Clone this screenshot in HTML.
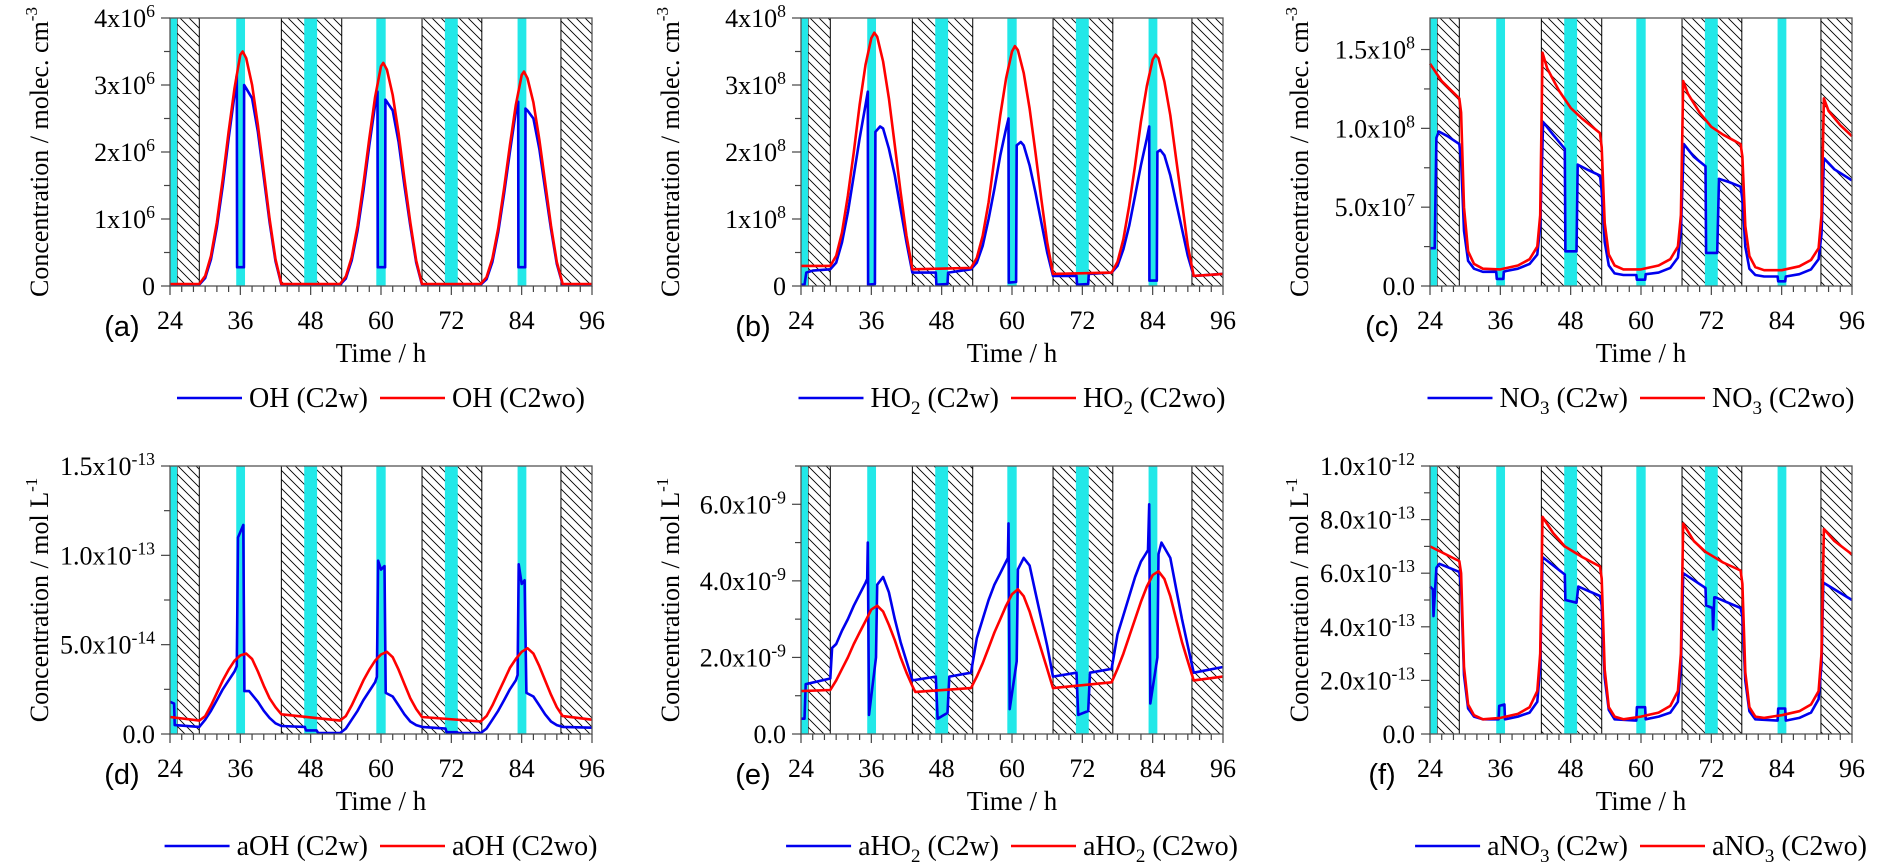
<!DOCTYPE html>
<html><head><meta charset="utf-8"><style>
html,body{margin:0;padding:0;background:#fff;}
svg{display:block;}
</style></head><body>
<svg id="fig" width="1882" height="866" viewBox="0 0 1882 866" xmlns="http://www.w3.org/2000/svg">
<defs>
<pattern id="hatch" patternUnits="userSpaceOnUse" width="9" height="9">
<path d="M-1,-1 L10,10 M-10,-1 L1,10 M8,-1 L19,10" stroke="#000" stroke-width="0.9"/>
</pattern>
</defs>
</svg>
<script>
// shared shading periods (hours)
const hatchStart=[25.2,43,67,90.7];
const hatchEnd=[29,53.3,77.2,96];
const cyanStart=[24,35.3,46.9,59.2,70.9,83.3];
const cyanEnd=[25.2,36.8,49.1,60.8,73.1,84.8];
const xTicks=[24,36,48,60,72,84,96];

// (a) OH, units 1e6
const aRedT=[24,29,30,31,32,33,34,35,36,36.4,37,38,39,40,41,42,43,53,54,55,56,57,58,59,60,60.4,61,62,63,64,65,66,67,77,78,79,80,81,82,83,84,84.4,85,86,87,88,89,90,91,96];
const aRedV=[0.03,0.03,0.15,0.45,0.95,1.6,2.3,2.95,3.45,3.5,3.4,3.0,2.4,1.7,1.0,0.4,0.03,0.03,0.14,0.43,0.9,1.52,2.2,2.82,3.28,3.33,3.23,2.85,2.28,1.6,0.95,0.38,0.03,0.03,0.13,0.41,0.86,1.46,2.1,2.7,3.15,3.2,3.1,2.74,2.19,1.55,0.9,0.36,0.03,0.03];
const aBlueT=[24,29,30,31,32,33,34,35,35.4,35.45,36.6,36.65,37,38,39,40,41,42,43,53,54,55,56,57,58,59,59.4,59.45,60.7,60.75,61,62,63,64,65,66,67,77,78,79,80,81,82,83,83.4,83.45,84.6,84.65,85,86,87,88,89,90,91,96];
const aBlueV=[0.02,0.02,0.12,0.4,0.88,1.5,2.2,2.85,3.15,0.28,0.28,3.0,2.95,2.8,2.3,1.62,0.95,0.37,0.02,0.02,0.11,0.38,0.83,1.42,2.1,2.7,2.9,0.28,0.28,2.78,2.75,2.62,2.15,1.5,0.9,0.35,0.02,0.02,0.1,0.36,0.8,1.38,2.0,2.6,2.75,0.28,0.28,2.65,2.62,2.5,2.05,1.45,0.85,0.33,0.02,0.02];
const aTicks=[0,1,2,3,4];
const aTickLabels=['0','1x10^6','2x10^6','3x10^6','4x10^6'];

// (b) HO2, units 1e8
const bRedT=[24,29,30,31,32,33,34,35,36,36.5,37,38,39,40,41,42,43,53,54,55,56,57,58,59,60,60.5,61,62,63,64,65,66,67,77,78,79,80,81,82,83,84,84.5,85,86,87,88,89,90,91,96];
const bRedV=[0.3,0.3,0.45,0.8,1.35,2.0,2.7,3.3,3.7,3.78,3.72,3.35,2.8,2.1,1.4,0.75,0.25,0.27,0.42,0.75,1.25,1.9,2.55,3.1,3.5,3.58,3.52,3.18,2.65,2.0,1.3,0.65,0.18,0.2,0.36,0.7,1.2,1.8,2.45,2.98,3.38,3.45,3.4,3.05,2.55,1.9,1.25,0.6,0.15,0.18];
const bBlueT=[24,24.6,24.9,26,29,30,31,32,33,34,35,35.4,35.45,36.6,36.7,37.5,38,39,40,41,42,43,47,47.1,49,49.1,53,54,55,56,57,58,59,59.4,59.45,60.7,60.8,61.5,62,63,64,65,66,67,71,71.1,73,73.1,77,78,79,80,81,82,83,83.4,83.45,84.7,84.8,85.3,86,87,88,89,90,91,96];
const bBlueV=[0.02,0.02,0.2,0.23,0.25,0.35,0.65,1.1,1.65,2.2,2.7,2.9,0.02,0.03,2.3,2.38,2.35,2.05,1.65,1.15,0.65,0.2,0.2,0.02,0.03,0.2,0.25,0.35,0.6,1.0,1.45,1.95,2.35,2.5,0.05,0.06,2.1,2.15,2.1,1.8,1.4,0.95,0.5,0.15,0.15,0.02,0.03,0.18,0.2,0.3,0.55,0.9,1.35,1.8,2.2,2.38,0.08,0.08,2.0,2.03,1.95,1.65,1.25,0.85,0.45,0.15,0.18];
const bTicks=[0,1,2,3,4];
const bTickLabels=['0','1x10^8','2x10^8','3x10^8','4x10^8'];

// (c) NO3, units 1e7
const cRedT=[24,26,29,29.3,29.8,30.5,31.5,33,36,39,41,42.3,42.8,43.2,44,46,48,50,53,53.3,53.8,54.5,55.5,57,60,63,65,66.3,66.8,67.2,68,70,72,74,77,77.3,77.8,78.5,79.5,81,84,87,89,90.3,90.8,91.2,92,94,96];
const cRedV=[14.1,13.0,11.9,11.0,5,2.2,1.4,1.1,1.05,1.3,1.7,2.5,4.5,14.8,13.8,12.4,11.3,10.6,9.7,8.8,4,2,1.3,1.05,1.05,1.3,1.7,2.5,4.5,13.0,12.2,11.0,10.1,9.6,9.0,8.2,3.8,1.9,1.2,1.0,1.0,1.25,1.65,2.4,4.5,11.9,11.1,10.2,9.5];
const cBlueT=[24,24.8,25.1,25.5,27,29,29.3,29.8,30.5,31.5,33,35.3,35.4,36.5,36.6,37,39,41,42.3,42.8,43.3,45,47,47.1,49,49.2,51,53,53.3,53.8,54.5,55.5,57,59.2,59.3,60.7,60.8,63,65,66.3,66.8,67.3,69,71,71.1,73,73.3,75,77,77.3,77.8,78.5,79.5,81,83.3,83.4,84.6,84.7,87,89,90.3,90.8,91.2,93,96];
const cBlueV=[2.4,2.4,9.4,9.8,9.5,9.0,8.0,3.5,1.6,1.1,0.9,0.9,0.45,0.45,0.9,0.95,1.1,1.4,2.0,3.8,10.4,9.6,8.7,2.2,2.2,7.7,7.35,7.0,6.0,2.8,1.3,0.8,0.7,0.7,0.4,0.4,0.75,0.85,1.15,1.8,3.5,9.0,8.2,7.6,2.1,2.1,6.8,6.6,6.3,5.5,2.5,1.1,0.7,0.6,0.6,0.3,0.3,0.6,0.75,1.05,1.7,3.3,8.1,7.4,6.7];
const cTicks=[0,5,10,15];
const cTickLabels=['0.0','5.0x10^7','1.0x10^8','1.5x10^8'];

// (d) aOH, units 1e-14
const dRedT=[24,29,30,31,32,33,34,35,36,37,38,39,40,41,42,43,53,54,55,56,57,58,59,60,61,62,63,64,65,66,67,77,78,79,80,81,82,83,84,85,86,87,88,89,90,91,96];
const dRedV=[0.95,0.75,1.0,1.6,2.3,3.0,3.6,4.1,4.4,4.5,4.2,3.5,2.7,2.0,1.5,1.1,0.75,1.0,1.6,2.3,3.0,3.6,4.1,4.45,4.6,4.3,3.6,2.8,2.0,1.4,0.95,0.7,1.0,1.6,2.3,3.0,3.7,4.2,4.6,4.8,4.5,3.8,3.0,2.2,1.5,1.0,0.8];
const dBlueT=[24,24.7,24.8,29,30,31,32,33,34,35,35.4,35.6,36.5,36.7,37.5,38,39,40,41,42,43,47,47.2,49,49.3,53,54,55,56,57,58,59,59.3,59.5,60,60.6,60.8,62,63,64,65,66,67,71,71.2,73,73.2,77,78,79,80,81,82,83,83.3,83.5,84,84.5,84.8,86,87,88,89,90,91,96];
const dBlueV=[1.8,1.7,0.5,0.4,0.8,1.3,1.9,2.5,3.0,3.5,3.8,11.0,11.7,2.4,2.4,2.2,1.8,1.3,0.9,0.6,0.45,0.4,0.2,0.2,0.05,0.05,0.3,0.8,1.3,1.9,2.4,2.9,3.2,9.7,9.2,9.4,2.3,2.1,1.6,1.1,0.7,0.5,0.4,0.3,0.1,0.1,0.05,0.05,0.3,0.8,1.3,1.9,2.5,3.0,3.3,9.5,8.4,8.6,2.3,2.1,1.6,1.1,0.7,0.5,0.4,0.35];
const dTicks=[0,5,10,15];
const dTickLabels=['0.0','5.0x10^-14','1.0x10^-13','1.5x10^-13'];

// (e) aHO2, units 1e-9
const eRedT=[24,29,30,31,32,33,34,35,36,37,38,39,40,41,42,43,43.5,53,54,55,56,57,58,59,60,61,62,63,64,65,66,67,77,78,79,80,81,82,83,84,85,86,87,88,89,90,91,96];
const eRedV=[1.12,1.15,1.4,1.7,2.0,2.35,2.65,2.95,3.25,3.35,3.2,2.85,2.45,2.0,1.6,1.25,1.1,1.2,1.5,1.85,2.25,2.65,3.0,3.35,3.65,3.78,3.6,3.2,2.7,2.2,1.7,1.2,1.35,1.7,2.1,2.55,3.0,3.45,3.85,4.15,4.25,4.05,3.6,3.0,2.4,1.9,1.4,1.5];
const eBlueT=[24,24.6,24.8,29,29.3,30,31,32,33,34,35,35.3,35.4,35.6,36.8,37,38,39,40,41,42,43,47,47.3,49,49.3,53,54,55,56,57,58,59.3,59.4,59.6,60.8,61,62,63,64,65,66,67,71,71.3,73,73.3,77,78,79,80,81,82,83.2,83.4,83.6,84.8,85,85.5,87,88,89,90,91,96];
const eBlueV=[0.4,0.4,1.3,1.45,2.25,2.35,2.7,3.0,3.35,3.65,3.95,4.05,5.0,0.5,2.0,3.9,4.1,3.7,3.0,2.4,1.9,1.4,1.5,0.4,0.55,1.5,1.6,2.5,3.0,3.5,3.9,4.2,4.6,5.5,0.65,1.9,4.3,4.6,4.4,3.7,3.0,2.3,1.5,1.6,0.5,0.6,1.6,1.7,2.6,3.1,3.6,4.1,4.5,4.8,6.0,0.8,2.0,4.7,5.0,4.6,3.8,3.0,2.3,1.6,1.75];
const eTicks=[0,2,4,6];
const eTickLabels=['0.0','2.0x10^-9','4.0x10^-9','6.0x10^-9'];

// (f) aNO3, units 1e-13
const fRedT=[24,29,29.3,29.8,30.5,31.5,33,36,39,41,42.3,42.8,43.2,45,47,50,53,53.3,53.8,54.5,55.5,57,60,63,65,66.3,66.8,67.2,69,71,74,77,77.3,77.8,78.5,79.5,81,84,87,89,90.3,90.8,91.2,93,96];
const fRedV=[7.0,6.45,6.0,2.5,1.1,0.7,0.55,0.6,0.75,1.0,1.6,3.0,8.1,7.5,7.0,6.6,6.25,5.8,2.4,1.0,0.65,0.55,0.65,0.8,1.05,1.6,3.0,7.85,7.2,6.8,6.4,6.1,5.6,2.3,1.0,0.65,0.6,0.7,0.85,1.1,1.6,3.0,7.65,7.2,6.7];
const fBlueT=[24,24.5,24.6,25.1,25.6,29,29.3,29.8,30.5,31.5,33,35.7,35.8,36.7,36.8,39,41,42.3,42.8,43.2,47,47.1,49,49.3,53,53.3,53.8,54.5,55.5,59.2,59.3,60.7,60.8,63,65,66.3,66.8,67.2,71,71.1,72.2,72.3,72.5,72.7,77,77.3,77.8,78.5,79.5,83.3,83.4,84.6,84.7,87,89,90.3,90.8,91.1,96];
const fBlueV=[5.5,5.4,4.4,6.2,6.35,6.05,5.5,2.2,0.95,0.65,0.55,0.55,1.05,1.1,0.55,0.65,0.8,1.2,2.5,6.6,5.95,5.0,4.9,5.5,5.15,4.8,2.1,0.9,0.55,0.5,1.0,1.0,0.55,0.65,0.8,1.2,2.5,6.0,5.45,4.8,4.7,3.9,5.1,5.1,4.7,4.4,2.0,0.85,0.55,0.5,0.95,0.95,0.5,0.6,0.8,1.3,2.6,5.65,5.0];
const fTicks=[0,2,4,6,8,10];
const fTickLabels=['0.0','2.0x10^-13','4.0x10^-13','6.0x10^-13','8.0x10^-13','1.0x10^-12'];

const NS='http://www.w3.org/2000/svg';
const svg=document.getElementById('fig');
function mk(tag,attrs,parent){const e=document.createElementNS(NS,tag);for(const k in attrs)e.setAttribute(k,attrs[k]);(parent||svg).appendChild(e);return e;}

const panels=[
 {id:'a',L:170,T:18,ymax:4,minor:0.5,ticks:aTicks,labels:aTickLabels,rT:aRedT,rV:aRedV,bT:aBlueT,bV:aBlueV,sp:'OH',sub:'',unit:'molec. cm',uexp:'-3'},
 {id:'b',L:801,T:18,ymax:4,minor:0.5,ticks:bTicks,labels:bTickLabels,rT:bRedT,rV:bRedV,bT:bBlueT,bV:bBlueV,sp:'HO',sub:'2',unit:'molec. cm',uexp:'-3'},
 {id:'c',L:1430,T:18,ymax:17,minor:2.5,ticks:cTicks,labels:cTickLabels,rT:cRedT,rV:cRedV,bT:cBlueT,bV:cBlueV,sp:'NO',sub:'3',unit:'molec. cm',uexp:'-3'},
 {id:'d',L:170,T:466,ymax:15,minor:2.5,ticks:dTicks,labels:dTickLabels,rT:dRedT,rV:dRedV,bT:dBlueT,bV:dBlueV,sp:'aOH',sub:'',unit:'mol L',uexp:'-1'},
 {id:'e',L:801,T:466,ymax:7,minor:1,ticks:eTicks,labels:eTickLabels,rT:eRedT,rV:eRedV,bT:eBlueT,bV:eBlueV,sp:'aHO',sub:'2',unit:'mol L',uexp:'-1'},
 {id:'f',L:1430,T:466,ymax:10,minor:1,ticks:fTicks,labels:fTickLabels,rT:fRedT,rV:fRedV,bT:fBlueT,bV:fBlueV,sp:'aNO',sub:'3',unit:'mol L',uexp:'-1'}
];
const W=422,H=268;
const SERIF='"Liberation Serif", serif';

function supText(parent,x,y,str,anchor,size){
  const t=mk('text',{x:x,y:y,'text-anchor':anchor,'font-family':SERIF,'font-size':size,fill:'#000'},parent);
  const parts=str.split('^');
  t.appendChild(document.createTextNode(parts[0]));
  if(parts.length>1){const s=mk('tspan',{dy:-10,'font-size':size*0.68},t);s.textContent=parts[1];}
  return t;
}

panels.forEach(p=>{
  const g=mk('g',{});
  
  
  const xs=t=>p.L+(t-24)/72*W;
  const ys=v=>p.T+H-v/p.ymax*H;
  const B=p.T+H;
  hatchStart.forEach((s,i)=>{
    const r=mk('rect',{x:xs(s),y:p.T,width:xs(hatchEnd[i])-xs(s),height:H,fill:'url(#hatch)',stroke:'#000','stroke-width':1},g);
    
    
  });
  cyanStart.forEach((s,i)=>{
    const r=mk('rect',{x:xs(s),y:p.T,width:xs(cyanEnd[i])-xs(s),height:H,fill:'#22e8e8'},g);
    
    
  });
  const pathOf=(T,V)=>T.map((t,i)=>(i?'L':'M')+xs(t).toFixed(1)+','+ys(Math.min(V[i],p.ymax)).toFixed(1)).join(' ');
  const bl=mk('path',{d:pathOf(p.bT,p.bV),fill:'none',stroke:'#0000ee','stroke-width':2.6,'stroke-linejoin':'round'},g);
  
  
  const rl=mk('path',{d:pathOf(p.rT,p.rV),fill:'none',stroke:'#ff0000','stroke-width':2.6,'stroke-linejoin':'round'},g);
  
  
  const fr=mk('rect',{x:p.L,y:p.T,width:W,height:H,fill:'none',stroke:'#555','stroke-width':1.3},g);
  
  
  for(let t=24;t<=96;t+=2){
    const major=(t-24)%12===0;
    mk('line',{x1:xs(t),x2:xs(t),y1:B,y2:B+(major?9:6),stroke:'#444','stroke-width':1.2},g);
  }
  xTicks.forEach(t=>{
    const tx=mk('text',{x:xs(t),y:B+43,'text-anchor':'middle','font-family':SERIF,'font-size':26,fill:'#000'},g);
    tx.textContent=t;
    
    
  });
  for(let v=0;v<=p.ymax+1e-9;v+=p.minor){
    const major=p.ticks.some(k=>Math.abs(k-v)<1e-9);
    mk('line',{x1:p.L,x2:p.L-(major?9:6),y1:ys(v),y2:ys(v),stroke:'#444','stroke-width':1.2},g);
  }
  p.ticks.forEach((v,i)=>{
    const tl=supText(g,p.L-15,ys(v)+9,p.labels[i],'end',26);
    
    
  });
  const pl=mk('text',{x:p.L-48,y:B+50,'text-anchor':'middle','font-family':'"Liberation Sans", sans-serif','font-size':29,fill:'#000'},g);
  pl.textContent='('+p.id+')';
  
  
  const xt=mk('text',{x:p.L+W/2,y:B+76,'text-anchor':'middle','font-family':SERIF,'font-size':27,fill:'#000'},g);
  xt.textContent='Time / h';
  
  
  const cx=p.L-122, cy=p.T+H/2;
  const yt=mk('text',{x:cx,y:cy,'text-anchor':'middle','font-family':SERIF,'font-size':26,fill:'#000',transform:'rotate(-90 '+cx+' '+cy+')'},g);
  yt.appendChild(document.createTextNode('Concentration / '+p.unit));
  const ye=mk('tspan',{dy:-11,'font-size':17},yt); ye.textContent=p.uexp;
  
  
  const lg=mk('g',{},g);
  
  
  const ly=B+112;
  const items=[['#0000ee',' (C2w)'],['#ff0000',' (C2wo)']];
  const els=[];
  items.forEach((it,i)=>{
    const ln=mk('line',{x1:0,x2:65,y1:ly,y2:ly,stroke:it[0],'stroke-width':2.6},lg);
    
    
    const tx=mk('text',{x:0,y:ly+9,'font-family':SERIF,'font-size':28,fill:'#000'},lg);
    tx.appendChild(document.createTextNode(p.sp));
    if(p.sub){const s=mk('tspan',{dy:7,'font-size':19},tx);s.textContent=p.sub;const r=mk('tspan',{dy:-7},tx);r.textContent=it[1];}
    else tx.appendChild(document.createTextNode(it[1]));
    
    
    els.push([ln,tx]);
  });
  const widths=els.map(e=>e[1].getComputedTextLength());
  const total=65+7+widths[0]+12+65+7+widths[1];
  let cur=p.L+W/2-total/2;
  els.forEach((e,i)=>{
    e[0].setAttribute('x1',cur); e[0].setAttribute('x2',cur+65);
    e[1].setAttribute('x',cur+72);
    cur+=72+widths[i]+12;
  });
});
</script>
</body></html>
